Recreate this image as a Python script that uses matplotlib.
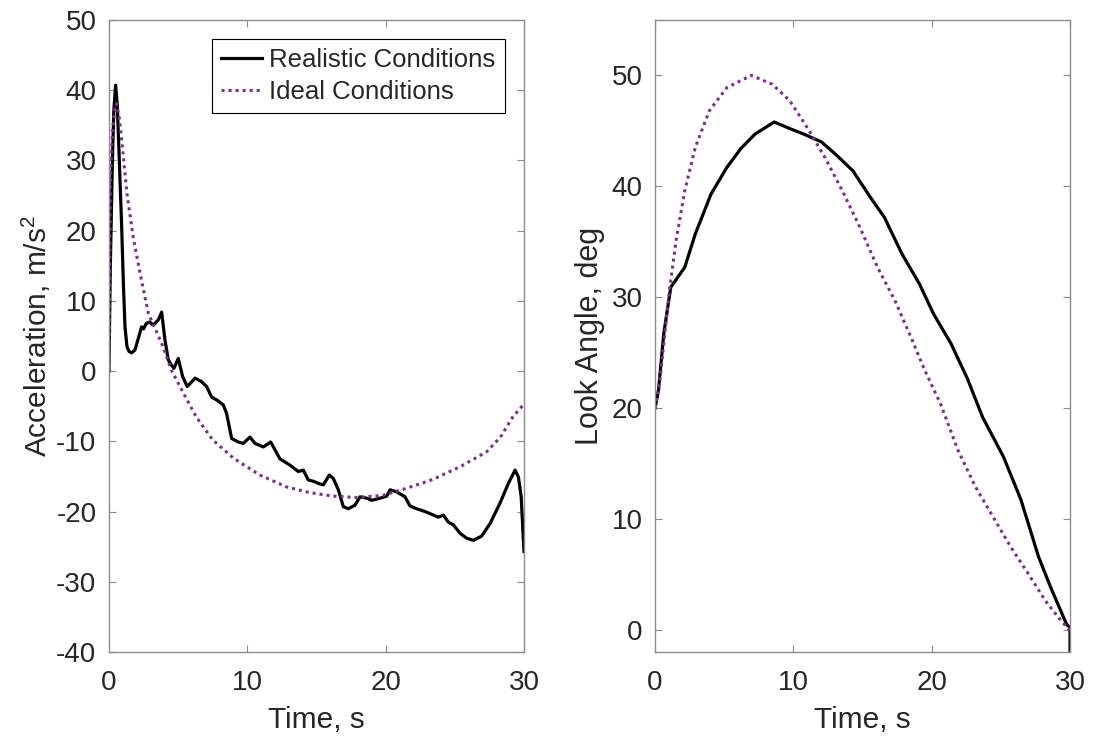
import matplotlib

matplotlib.use("Agg")
import matplotlib.pyplot as plt

plt.rcParams["font.family"] = ["Liberation Sans", "DejaVu Sans"]
plt.rcParams["mathtext.fontset"] = "custom"
plt.rcParams["mathtext.rm"] = "Liberation Sans"
plt.rcParams["axes.unicode_minus"] = False

BLACK = "#000000"
PURPLE = "#7E2F8E"
SPINE = "#8c8c8c"
TEXT = "#262626"

# left panel: acceleration, m/s^2
acc_real_t = [0, 0.1, 0.25, 0.35, 0.48, 0.6, 0.75, 0.92, 1.05, 1.16, 1.3, 1.45, 1.64, 1.88,
              2.1, 2.36, 2.5, 2.7, 2.96, 3.15, 3.33, 3.57, 3.81, 4.05, 4.29, 4.5, 4.7, 5.01,
              5.33, 5.66, 5.95, 6.22, 6.5, 6.7, 7.06, 7.42, 7.78, 8.26, 8.5, 8.87, 9.35, 9.71,
              10.19, 10.56, 11.16, 11.69, 12.0, 12.36, 13.09, 13.69, 14.05, 14.41, 14.8, 15.14,
              15.5, 15.93, 16.22, 16.58, 16.94, 17.3, 17.78, 18.15, 18.63, 18.99, 19.6, 20.08,
              20.32, 20.8, 21.4, 21.76, 22.24, 22.85, 23.45, 23.81, 24.17, 24.53, 24.9, 25.38,
              25.86, 26.34, 26.94, 27.55, 28.27, 28.87, 29.36, 29.6, 29.8, 30]
acc_real = [0, 15, 30, 37, 40.7, 38, 30, 20.5, 12, 6.3, 3.5, 2.8, 2.6, 3.0,
            4.5, 6.3, 6.0, 6.8, 7.0, 6.6, 6.8, 7.3, 8.4, 4.4, 1.6, 0.9, 0.4, 1.8,
            -0.8, -2.2, -1.6, -1.0, -1.3, -1.5, -2.2, -3.7, -4.1, -4.8, -6.0, -9.6, -10.1, -10.3,
            -9.4, -10.3, -10.8, -10.1, -11.2, -12.5, -13.4, -14.3, -14.1, -15.5, -15.7, -16.0,
            -16.2, -14.8, -15.3, -16.9, -19.3, -19.6, -19.1, -17.9, -18.1, -18.4, -18.1, -17.8,
            -16.9, -17.2, -17.9, -19.2, -19.6, -20.0, -20.5, -20.8, -20.5, -21.5, -21.9, -23.1,
            -23.8, -24.1, -23.5, -21.7, -18.8, -16.0, -14.1, -15.1, -17.9, -25.7]

acc_ideal_t = [0, 0.1, 0.25, 0.4, 0.55, 0.75, 0.95, 1.3, 1.75, 2.25, 2.85, 3.35, 3.9, 4.5,
               5.4, 6.3, 7.5, 9.0, 10.9, 12.85, 14.5, 16.2, 17.9, 19.8, 21.5, 23.45, 25.4,
               27.3, 28.3, 29.2, 30]
acc_ideal = [0, 27, 34, 37, 38.1, 36, 32.4, 25.3, 19.1, 13.9, 8.2, 6.0, 3.5, 0.2,
             -3.2, -6.5, -9.8, -12.4, -14.8, -16.5, -17.3, -17.8, -18.0, -17.7, -16.7, -15.4, -13.6,
             -11.5, -9.4, -6.5, -4.7]

# right panel: look angle, deg
look_real_t = [0, 0.25, 0.63, 1.14, 2.15, 2.91, 4.05, 5.19, 6.2, 7.22, 8.61, 9.75, 10.76,
               12.03, 13.04, 14.3, 15.57, 16.58, 17.85, 19.11, 20.13, 21.4, 22.6, 23.67, 25.19,
               26.46, 27.72, 28.61, 29.75, 30, 30]
look_real = [20, 21.6, 26.7, 30.9, 32.7, 35.7, 39.3, 41.7, 43.4, 44.7, 45.8, 45.2, 44.7,
             44.0, 42.9, 41.4, 39.0, 37.2, 33.9, 31.2, 28.5, 25.8, 22.6, 19.2, 15.6,
             11.7, 6.6, 3.8, 0.5, 0.2, -2.5]

look_ideal_t = [0, 0.38, 1.01, 1.52, 2.15, 2.91, 3.92, 5.19, 6.96, 8.48, 9.75, 11.0, 12.28,
                13.54, 14.81, 16.08, 17.34, 18.6, 19.5, 20.63, 21.9, 23.16, 24.43, 25.7, 26.96,
                28.23, 29.24, 29.87, 30]
look_ideal = [20, 22.8, 30.3, 35.1, 39.6, 43.5, 46.8, 48.9, 50.0, 49.2, 47.7, 45.3, 42.6,
              39.6, 36.3, 32.7, 29.7, 26.1, 23.4, 20.4, 16.2, 12.9, 10.2, 7.5, 5.1,
              2.6, 1.0, 0.1, 0]

time_ticks = [0, 10, 20, 30]
acc_ticks = list(range(-40, 51, 10))
look_ticks = list(range(0, 51, 10))

assert len(acc_real_t) == len(acc_real)
assert len(acc_ideal_t) == len(acc_ideal)
assert len(look_real_t) == len(look_real)
assert len(look_ideal_t) == len(look_ideal)


def _style_axes(ax):
    for spine in ax.spines.values():
        spine.set_color(SPINE)
        spine.set_linewidth(1.0)
    ax.tick_params(direction="in", length=5, width=0.8, color=SPINE, labelcolor=TEXT,
                   labelsize=20, top=True, right=True)
    ax.tick_params(axis="x", pad=13)
    ax.tick_params(axis="y", pad=9)
    ax.set_xlim(0, 30)
    ax.set_xticks(time_ticks)
    ax.set_xlabel("Time, s", fontsize=21.5, color=TEXT, labelpad=7)


fig = plt.figure(figsize=(10.95, 7.42), dpi=100)
ax_acc = fig.add_axes([0.0995, 0.1213, 0.379, 0.8518])
ax_look = fig.add_axes([0.5982, 0.1213, 0.379, 0.8518])

ax_acc.plot(acc_real_t, acc_real, color=BLACK, linewidth=2.3, label="Realistic Conditions")
ax_acc.plot(acc_ideal_t, acc_ideal, color=PURPLE, linewidth=2.2, linestyle=(0, (1, 1.3)),
            label="Ideal Conditions")
_style_axes(ax_acc)
ax_acc.set_ylim(-40, 50)
ax_acc.set_yticks(acc_ticks)
ax_acc.set_ylabel("Acceleration, m/s$^2$", fontsize=21.5, color=TEXT, labelpad=2)
legend = ax_acc.legend(loc="upper right", fontsize=18.5, frameon=True, fancybox=False,
                       edgecolor="#000000", framealpha=1, borderpad=0.35, labelspacing=0.3,
                       handlelength=1.6, handletextpad=0.3, borderaxespad=0.75)
legend.get_frame().set_linewidth(0.8)
for text in legend.get_texts():
    text.set_color(TEXT)

ax_look.plot(look_real_t, look_real, color=BLACK, linewidth=2.3)
ax_look.plot(look_ideal_t, look_ideal, color=PURPLE, linewidth=2.2, linestyle=(0, (1, 1.3)))
_style_axes(ax_look)
ax_look.set_ylim(-2, 55)
ax_look.set_yticks(look_ticks)
ax_look.set_ylabel("Look Angle, deg", fontsize=22, color=TEXT, labelpad=5)

fig.savefig("out.png", dpi=100)
